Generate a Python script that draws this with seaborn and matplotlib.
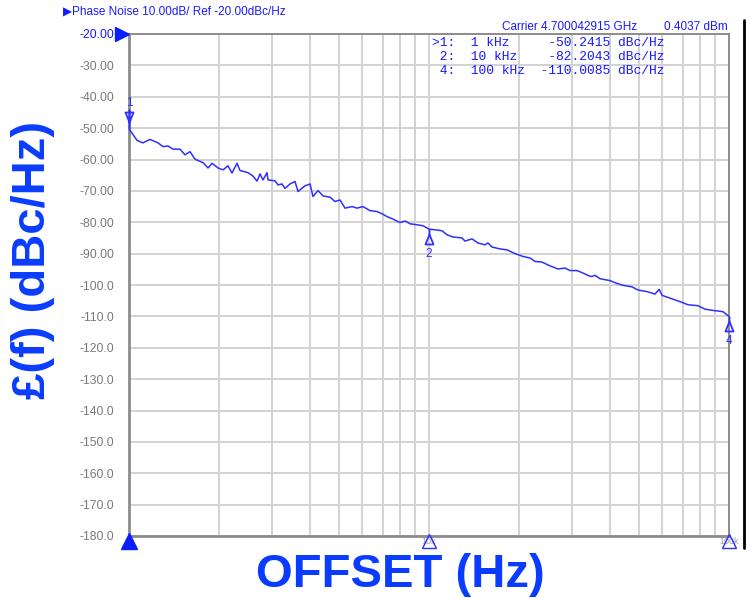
import numpy as np
import pandas as pd
import matplotlib
matplotlib.use("Agg")
import matplotlib.pyplot as plt
import matplotlib.transforms as mtrans
from matplotlib.path import Path
from matplotlib.lines import Line2D
import seaborn as sns

# ---------------- data ----------------
offset_khz = [1.000, 1.0633, 1.1134, 1.1749, 1.2496, 1.2984, 1.3490, 1.4019, 1.4791, 1.5370,
              1.5970, 1.6596, 1.7650, 1.8340, 1.8913, 1.9805, 2.0580, 2.1380, 2.2047, 2.2909,
              2.3442, 2.4929, 2.5905, 2.6713, 2.7335, 2.7971, 2.8840, 2.9063, 3.0671, 3.1386,
              3.2359, 3.3113, 3.4408, 3.5754, 3.6587, 3.8612, 4.0121, 4.1055, 4.2658, 4.4327,
              4.6774, 4.8604, 5.0504, 5.2481, 5.5390, 5.7544, 6.0256, 6.3605, 6.7130, 6.9754,
              7.2444, 7.5858, 8.0076, 8.3176, 8.6447, 9.1201, 9.5499, 10.000, 10.471, 11.049,
              11.482, 12.023, 12.882, 13.183, 13.911, 14.567, 15.370, 15.728, 16.218, 17.246,
              18.197, 19.349, 20.580, 21.717, 22.567, 23.811, 25.316, 26.915, 28.403, 29.512,
              31.140, 32.607, 34.145, 34.940, 35.754, 37.154, 40.121, 42.337, 44.327, 47.507,
              49.743, 53.300, 56.663, 58.479, 59.840, 63.605, 68.645, 73.009, 78.813, 83.176,
              88.450, 95.499, 100.00]
phase_noise = [-50.24, -53.9, -54.7, -53.6, -54.7, -55.9, -55.7, -56.7, -56.7, -58.5,
               -57.5, -59.9, -61.0, -62.7, -61.2, -62.7, -63.3, -62.0, -64.3, -61.2,
               -63.5, -64.2, -65.3, -66.9, -64.6, -66.5, -64.2, -66.5, -66.8, -68.1,
               -67.8, -69.2, -67.8, -67.0, -70.2, -68.4, -67.8, -71.8, -69.9, -71.6,
               -72.0, -73.4, -72.9, -75.5, -75.0, -75.5, -75.0, -76.3, -76.6, -77.3,
               -78.2, -79.0, -80.1, -79.6, -80.5, -80.8, -81.1, -82.2, -82.4, -82.7,
               -84.0, -84.7, -85.0, -86.0, -85.3, -86.6, -87.2, -86.6, -87.9, -88.5,
               -88.8, -90.0, -90.9, -91.4, -92.5, -92.7, -93.9, -94.9, -94.6, -95.4,
               -95.4, -96.2, -97.1, -97.3, -96.9, -98.0, -98.6, -99.5, -100.1, -100.6,
               -101.6, -102.1, -102.9, -101.4, -103.3, -104.2, -105.3, -106.3, -106.6, -107.7,
               -108.1, -108.5, -110.0]

marker_ids = ["1", "2", "4"]
marker_khz = [1.0, 10.0, 100.0]
marker_vals = [-50.2415, -82.2043, -110.0085]

y_ticks = list(range(-20, -190, -10))
x_ticks_khz = [1, 10, 100]
x_tick_labels = ["1k", "10k", "100k"]

header_text = "\u25B6Phase Noise 10.00dB/ Ref -20.00dBc/Hz"
carrier_text = "Carrier 4.700042915 GHz"
power_text = "0.4037 dBm"
table_lines = [">1:  1 kHz     -50.2415 dBc/Hz",
               " 2:  10 kHz    -82.2043 dBc/Hz",
               " 4:  100 kHz  -110.0085 dBc/Hz"]
xlabel = "OFFSET (Hz)"
ylabel = "\u00A3(f) (dBc/Hz)"

# ---------------- style ----------------
sns.set_theme(style="white")
plt.rcParams['font.family'] = ['Liberation Sans', 'DejaVu Sans']

BLUE_T = "#2f2fff"
BLUE_TXT = "#1a1aff"
BLUE_BIG = "#0a3cff"
GRID = "#d2d2d2"
GRAYTXT = "#7a7a7a"

W, H = 754, 598
fig = plt.figure(figsize=(W / 100, H / 100), dpi=100)
ax = fig.add_axes([129 / W, 1 - 536 / H, 600 / W, 502 / H])

df = pd.DataFrame({"f": np.array(offset_khz) * 1000.0, "pn": phase_noise})
sns.lineplot(data=df, x="f", y="pn", ax=ax, color=BLUE_T, lw=1.1, zorder=5)

ax.set_xscale("log")
ax.set_xlim(1000, 100000)
ax.set_ylim(-180, -20)

# grid
ax.set_xticks([v * 1000 for v in x_ticks_khz])
ax.set_xticks([m * d for d in (1000, 10000) for m in range(2, 10)], minor=True)
ax.set_xticklabels(x_tick_labels)
ax.set_yticks(y_ticks)
ax.set_yticklabels([f"{v:.2f}" if v > -100 else f"{v:.1f}" for v in y_ticks])
ax.grid(True, which="both", axis="x", color=GRID, lw=1.4)
ax.grid(True, which="major", axis="y", color=GRID, lw=1.4)
ax.tick_params(axis="both", which="both", length=0)
ax.tick_params(axis="y", pad=10.8, labelsize=8.8, labelcolor=GRAYTXT)
ax.tick_params(axis="x", pad=1, labelsize=6.5, labelcolor="#a0a0a0")
ax.get_yticklabels()[0].set_color(BLUE_TXT)
ax.set_xlabel("")
ax.set_ylabel("")
for s in ax.spines.values():
    s.set_color("#8c8c8c")
    s.set_linewidth(1.4)
ax.spines["left"].set_linewidth(2)
ax.spines["bottom"].set_linewidth(2)

# marker symbols on the trace
def path_marker(segs):
    verts, codes = [], []
    for seg, closed in segs:
        for i, p in enumerate(seg):
            verts.append(p)
            codes.append(Path.MOVETO if i == 0 else Path.LINETO)
        if closed:
            verts.append(seg[0])
            codes.append(Path.CLOSEPOLY)
    verts = np.array(verts, float)
    return Path(verts, codes), np.max(np.abs(verts))

up_path, up_r = path_marker([([(0, 0), (0, 20)], False),
                             ([(-4, 17), (4, 17), (0, 7)], True)])
dn_path, dn_r = path_marker([([(0, 0), (0, -5)], False),
                             ([(0, -5), (-4, -15), (4, -15)], True)])

for mid, fk, v in zip(marker_ids, marker_khz, marker_vals):
    if mid == "1":
        pth, r, dy = up_path, up_r, 26
    else:
        pth, r, dy = dn_path, dn_r, -25
    ax.plot([fk * 1000], [v], marker=pth, markersize=2 * r * 0.72,
            markerfacecolor="none", markeredgecolor=BLUE_T, markeredgewidth=1.3,
            linestyle="none", clip_on=False, zorder=8)
    ax.annotate(mid, (fk * 1000, v), xytext=(0, dy * 0.72), textcoords="offset points",
                ha="center", va="center", fontsize=8.5, color=BLUE_T,
                annotation_clip=False, zorder=8)

# bottom stimulus markers
tb = mtrans.offset_copy(ax.get_xaxis_transform(), fig=fig, x=0, y=-5, units="dots")
ax.plot([1000], [0], marker="^", markersize=12 * 0.72 * 1.3, color="#0a1eff",
        transform=tb, clip_on=False, zorder=10, linestyle="none")
ax.plot([10000, 100000], [0, 0], marker="^", markersize=12 * 0.72 * 1.2,
        markerfacecolor="none", markeredgecolor=BLUE_T, markeredgewidth=1.0,
        transform=tb, clip_on=False, zorder=10, linestyle="none")
# reference level marker
tl = mtrans.offset_copy(ax.get_yaxis_transform(), fig=fig, x=-7, y=0, units="dots")
ax.plot([0], [-20], marker=">", markersize=14 * 0.72, color="#0a1eff",
        transform=tl, clip_on=False, zorder=10, linestyle="none")

# header texts
fig.text(63 / W, 1 - 12 / H, header_text, fontsize=8.5, color=BLUE_TXT,
         ha="left", va="center", family=['Liberation Sans', 'DejaVu Sans'])
fig.text(637 / W, 1 - 27 / H, carrier_text, fontsize=8.5, color=BLUE_TXT, ha="right", va="center")
fig.text(728 / W, 1 - 27 / H, power_text, fontsize=8.5, color=BLUE_TXT, ha="right", va="center")
for i, line in enumerate(table_lines):
    fig.text(432 / W, 1 - (43 + 14 * i) / H, line, fontsize=9.4, color=BLUE_TXT,
             ha="left", va="center", family=['Liberation Mono', 'DejaVu Sans Mono'])

# big axis titles
fig.text(400 / W, 1 - 587 / H, xlabel, fontsize=34, fontweight="bold", color=BLUE_BIG,
         ha="center", va="baseline")
fig.text(33 / W, 1 - 260 / H, ylabel, fontsize=34, fontweight="bold", color=BLUE_BIG,
         ha="center", va="center", rotation=90)

# screenshot frame edge
fig.add_artist(Line2D([744 / W, 744 / W], [1 - 20 / H, 1 - 548 / H], color="black", lw=2))

fig.savefig("out.png", dpi=100)
